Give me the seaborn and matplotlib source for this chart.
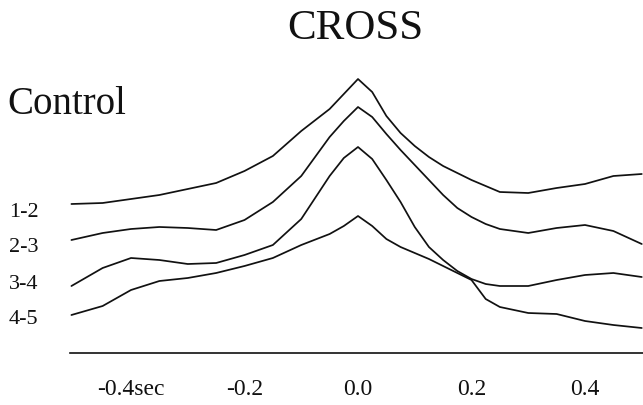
import matplotlib
matplotlib.use("Agg")
import matplotlib.pyplot as plt
import numpy as np
import pandas as pd
import seaborn as sns

# Lag (seconds) at which each cross-correlogram was sampled
lag = [-0.505, -0.45, -0.40, -0.35, -0.30, -0.25, -0.20, -0.15, -0.10, -0.05,
       -0.025, 0.0, 0.025, 0.05, 0.075, 0.10, 0.125, 0.15, 0.175, 0.20,
       0.225, 0.25, 0.30, 0.35, 0.40, 0.45, 0.50]

# Stacked cross-correlogram heights (arbitrary units, already offset per pair)
pair_1_2 = [1.49, 1.50, 1.54, 1.58, 1.64, 1.70, 1.82, 1.97, 2.22, 2.44,
            2.59, 2.74, 2.61, 2.37, 2.20, 2.07, 1.96, 1.87, 1.80, 1.73,
            1.67, 1.61, 1.60, 1.65, 1.69, 1.77, 1.79]
pair_2_3 = [1.13, 1.20, 1.24, 1.26, 1.25, 1.23, 1.33, 1.51, 1.77, 2.16,
            2.32, 2.46, 2.36, 2.19, 2.03, 1.88, 1.73, 1.58, 1.45, 1.36,
            1.29, 1.24, 1.20, 1.25, 1.28, 1.22, 1.09]
pair_3_4 = [0.67, 0.85, 0.95, 0.93, 0.89, 0.90, 0.98, 1.08, 1.34, 1.77,
            1.95, 2.06, 1.94, 1.73, 1.51, 1.26, 1.06, 0.93, 0.82, 0.74,
            0.69, 0.67, 0.67, 0.73, 0.78, 0.80, 0.76]
pair_4_5 = [0.38, 0.47, 0.63, 0.72, 0.75, 0.80, 0.87, 0.95, 1.08, 1.19,
            1.27, 1.37, 1.27, 1.14, 1.06, 1.00, 0.94, 0.87, 0.80, 0.73,
            0.54, 0.46, 0.40, 0.39, 0.32, 0.28, 0.25]

pair_names = ["1-2", "2-3", "3-4", "4-5"]
tick_values = [-0.4, -0.2, 0.0, 0.2, 0.4]
tick_labels = ["-0.4sec", "-0.2", "0.0", "0.2", "0.4"]

df = pd.concat(
    [pd.DataFrame({"lag": lag, "height": vals, "pair": name})
     for name, vals in zip(pair_names, [pair_1_2, pair_2_3, pair_3_4, pair_4_5])],
    ignore_index=True,
)

sns.set_style("white")
plt.rcParams["font.family"] = ["Liberation Serif", "DejaVu Serif"]

W, H = 643, 405
fig = plt.figure(figsize=(W / 100, H / 100), dpi=100)
ax = fig.add_axes([70 / W, 1 - 353 / H, 1 - 70 / W, (353 - 60) / H])

sns.lineplot(data=df, x="lag", y="height", hue="pair",
             palette=["#111111"] * 4, linewidth=1.25, legend=False,
             sort=False, ax=ax)
for line in ax.get_lines():
    line.set_solid_joinstyle("round")

ax.set_xlim(-0.5075, 0.5022)
ax.set_ylim(0, 2.93)
ax.set_xlabel("")
ax.set_ylabel("")
ax.set_yticks([])
ax.set_xticks(tick_values)
ax.set_xticklabels(tick_labels)
ax.tick_params(axis="x", direction="out", length=10.5, width=1.1,
               pad=8.5, labelsize=17, colors="#111111")
sns.despine(ax=ax, left=True, top=True, right=True)
ax.spines["bottom"].set_linewidth(1.2)
ax.spines["bottom"].set_color("#111111")

# Titles and pair labels
fig.text(355 / W, 1 - 39 / H, "CROSS", ha="center", va="baseline",
         fontsize=31, color="#111111")
fig.text(7 / W, 1 - 114 / H, "Control", ha="left", va="baseline",
         fontsize=28, color="#111111")
label_baselines = [217, 252, 289, 324]
for name, yb in zip(pair_names, label_baselines):
    fig.text(9 / W, 1 - yb / H, name, ha="left", va="baseline",
             fontsize=16, color="#111111")

fig.savefig("out.png", dpi=100, facecolor="white")
